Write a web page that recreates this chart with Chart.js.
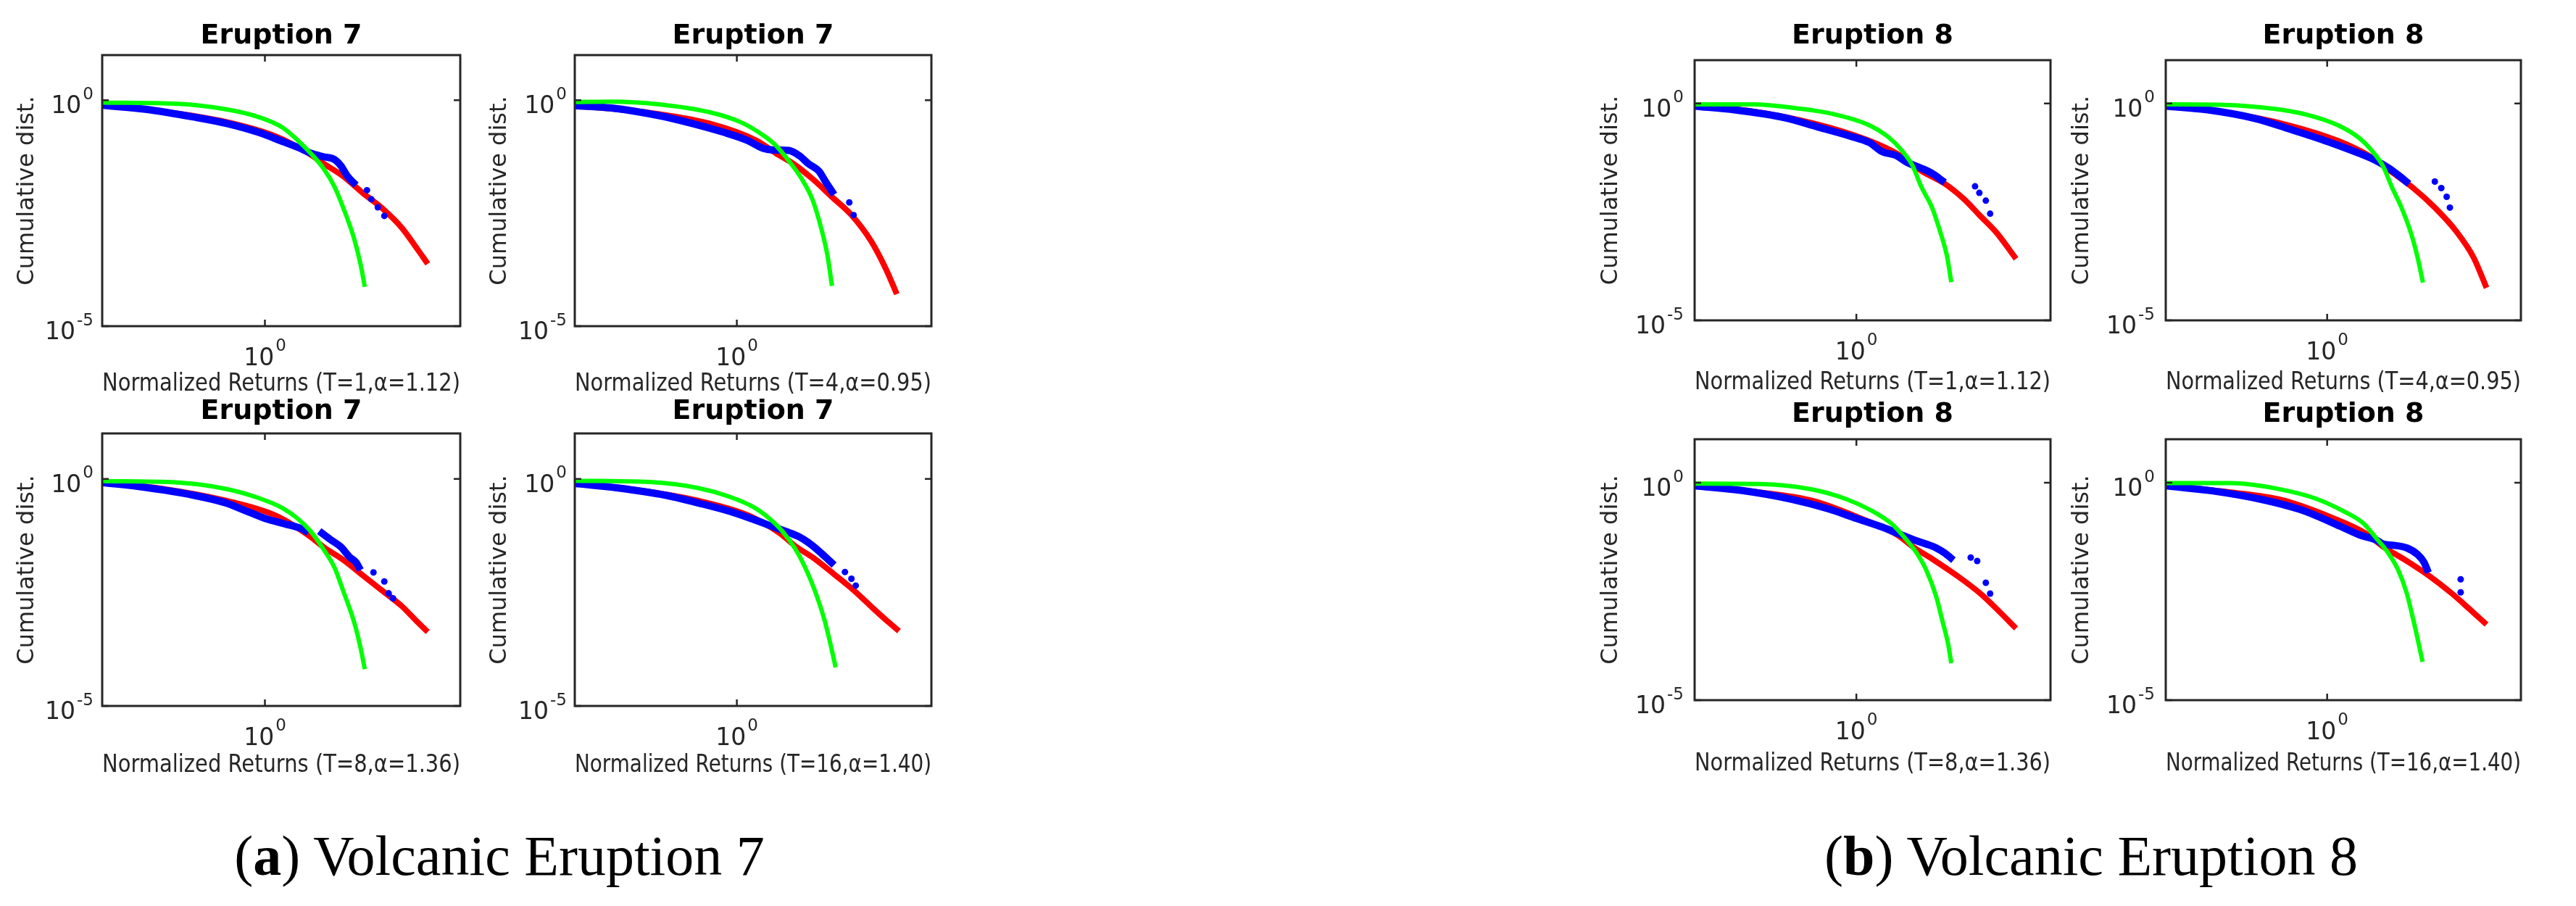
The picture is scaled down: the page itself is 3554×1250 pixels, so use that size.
<!DOCTYPE html>
<html>
<head>
<meta charset="utf-8">
<script src="https://cdn.jsdelivr.net/npm/chart.js@4.4.1/dist/chart.umd.min.js"></script>
<style>
  body { margin: 0; background: #fff; }
  #page { position: relative; width: 3554px; height: 1250px; overflow: hidden; background: #fff; }
  #page canvas { position: absolute; }
  .caption {
    position: absolute; top: 1142px; transform: translateX(-50%);
    font-family: "Liberation Serif", serif; font-size: 78px; line-height: 78px;
    color: #000; white-space: nowrap;
  }
</style>
</head>
<body>
<div id="page"></div>
<script>
// === Data ===
// every pair is [log10 x, log10 y], read off the log-log axes of the picture
const xTicks = [1];
const xTickExponents = ['0'];      // drawn as 10^0
const yTicks = [1e-5, 1];
const yTickExponents = ['-5', '0']; // drawn as 10^-5, 10^0
const xLimits = [0.178, 7.94];
const yLimits = [1e-5, 10];

const eruptions = ['Eruption 7', 'Eruption 8'];
const captions = ['Volcanic Eruption 7', 'Volcanic Eruption 8'];
const horizons = ['T=1,α=1.12', 'T=4,α=0.95', 'T=8,α=1.36', 'T=16,α=1.40'];

// Eruption 7
const a1Green = [[-0.75,-0.05],[-0.40,-0.08],[-0.18,-0.20],[-0.03,-0.37],[0.08,-0.60],[0.15,-0.88],[0.21,-1.17],[0.27,-1.51],[0.32,-1.91],[0.36,-2.37],[0.41,-3.05],[0.44,-3.62],[0.46,-4.13]];
const a1Red = [[-0.75,-0.11],[-0.47,-0.25],[-0.18,-0.48],[0.05,-0.80],[0.20,-1.17],[0.27,-1.40],[0.36,-1.68],[0.45,-2.05],[0.54,-2.39],[0.63,-2.82],[0.70,-3.28],[0.75,-3.62]];
const a1Blue = [[[-0.75,-0.11],[-0.55,-0.20],[-0.33,-0.37],[-0.18,-0.51],[-0.03,-0.71],[0.08,-0.91],[0.17,-1.08],[0.21,-1.17],[0.27,-1.25],[0.32,-1.31],[0.35,-1.45],[0.38,-1.68],[0.42,-1.88]]];
const a1Dots = [[0.47,-1.99],[0.49,-2.19],[0.52,-2.37],[0.55,-2.56]];

const a2Green = [[-0.75,-0.04],[-0.58,-0.03],[-0.36,-0.09],[-0.13,-0.26],[0.02,-0.49],[0.12,-0.77],[0.18,-1.00],[0.24,-1.34],[0.30,-1.74],[0.35,-2.20],[0.39,-2.83],[0.42,-3.46],[0.44,-4.11]];
const a2Red = [[-0.75,-0.12],[-0.43,-0.26],[-0.13,-0.51],[0.09,-0.89],[0.18,-1.17],[0.26,-1.40],[0.35,-1.74],[0.44,-2.14],[0.53,-2.54],[0.62,-3.11],[0.69,-3.74],[0.74,-4.29]];
const a2Blue = [[[-0.75,-0.12],[-0.58,-0.17],[-0.36,-0.34],[-0.21,-0.51],[-0.06,-0.71],[0.05,-0.89],[0.12,-1.06],[0.17,-1.10],[0.24,-1.11],[0.29,-1.23],[0.33,-1.40],[0.38,-1.57],[0.41,-1.80],[0.45,-2.09]]];
const a2Dots = [[0.52,-2.26],[0.54,-2.54]];

const a3Green = [[-0.75,-0.05],[-0.40,-0.08],[-0.18,-0.22],[-0.03,-0.42],[0.08,-0.64],[0.15,-0.87],[0.21,-1.15],[0.27,-1.55],[0.32,-1.95],[0.36,-2.46],[0.41,-3.14],[0.44,-3.71],[0.46,-4.19]];
const a3Red = [[-0.75,-0.08],[-0.47,-0.22],[-0.18,-0.48],[0.05,-0.81],[0.20,-1.24],[0.27,-1.50],[0.36,-1.78],[0.45,-2.12],[0.54,-2.46],[0.63,-2.80],[0.70,-3.14],[0.75,-3.37]];
const a3Blue = [
  [[-0.75,-0.08],[-0.55,-0.19],[-0.33,-0.36],[-0.18,-0.53],[-0.09,-0.70],[0.00,-0.87],[0.09,-0.99],[0.17,-1.10],[0.20,-1.18]],
  [[0.25,-1.15],[0.30,-1.33],[0.35,-1.50],[0.39,-1.72],[0.42,-1.84],[0.44,-2.01]]
];
const a3Dots = [[0.50,-2.06],[0.55,-2.26],[0.57,-2.52],[0.59,-2.63]];

const a4Green = [[-0.75,-0.04],[-0.40,-0.07],[-0.18,-0.20],[-0.03,-0.40],[0.08,-0.63],[0.15,-0.87],[0.21,-1.15],[0.27,-1.54],[0.315,-1.94],[0.36,-2.45],[0.405,-3.10],[0.435,-3.68],[0.457,-4.15]];
const a4Red = [[-0.75,-0.10],[-0.47,-0.24],[-0.18,-0.48],[0.05,-0.80],[0.20,-1.20],[0.27,-1.48],[0.36,-1.76],[0.45,-2.10],[0.54,-2.45],[0.63,-2.85],[0.70,-3.15],[0.75,-3.35]];
const a4Blue = [[[-0.75,-0.10],[-0.55,-0.20],[-0.33,-0.36],[-0.18,-0.53],[-0.03,-0.72],[0.08,-0.90],[0.17,-1.06],[0.24,-1.18],[0.29,-1.28],[0.33,-1.40],[0.37,-1.55],[0.41,-1.72],[0.45,-1.90]]];
const a4Dots = [[0.50,-2.05],[0.53,-2.20],[0.55,-2.35]];

// Eruption 8
const b1Green = [[-0.75,-0.02],[-0.48,-0.02],[-0.26,-0.12],[-0.11,-0.24],[0.05,-0.48],[0.15,-0.78],[0.21,-1.08],[0.26,-1.43],[0.30,-1.91],[0.35,-2.39],[0.39,-2.98],[0.42,-3.52],[0.44,-4.12]];
const b1Red = [[-0.75,-0.06],[-0.48,-0.18],[-0.18,-0.48],[0.05,-0.84],[0.20,-1.19],[0.30,-1.55],[0.41,-1.85],[0.50,-2.21],[0.57,-2.57],[0.65,-2.98],[0.74,-3.58]];
const b1Blue = [[[-0.75,-0.06],[-0.56,-0.15],[-0.33,-0.33],[-0.18,-0.54],[-0.03,-0.75],[0.06,-0.90],[0.12,-1.11],[0.18,-1.19],[0.24,-1.37],[0.30,-1.49],[0.35,-1.61],[0.41,-1.82]]];
const b1Dots = [[0.55,-1.91],[0.57,-2.06],[0.60,-2.24],[0.62,-2.54]];

const b2Green = [[-0.75,-0.02],[-0.48,-0.03],[-0.25,-0.12],[-0.10,-0.25],[0.05,-0.50],[0.15,-0.80],[0.21,-1.10],[0.26,-1.45],[0.30,-1.92],[0.345,-2.40],[0.39,-3.00],[0.42,-3.55],[0.445,-4.13]];
const b2Red = [[-0.75,-0.06],[-0.48,-0.20],[-0.18,-0.50],[0.05,-0.86],[0.20,-1.22],[0.30,-1.58],[0.40,-1.95],[0.50,-2.40],[0.60,-2.95],[0.68,-3.55],[0.74,-4.25]];
const b2Blue = [[[-0.75,-0.06],[-0.55,-0.15],[-0.33,-0.35],[-0.18,-0.58],[-0.03,-0.82],[0.06,-0.98],[0.15,-1.15],[0.22,-1.30],[0.29,-1.50],[0.33,-1.65],[0.38,-1.85]]];
const b2Dots = [[0.50,-1.80],[0.53,-1.95],[0.555,-2.15],[0.57,-2.40]];

const b3Green = [[-0.75,-0.02],[-0.45,-0.03],[-0.21,-0.15],[-0.05,-0.37],[0.07,-0.64],[0.165,-0.95],[0.23,-1.30],[0.28,-1.62],[0.325,-2.02],[0.37,-2.62],[0.40,-3.20],[0.425,-3.70],[0.44,-4.15]];
const b3Red = [[-0.75,-0.07],[-0.45,-0.22],[-0.20,-0.42],[0.03,-0.84],[0.19,-1.20],[0.27,-1.50],[0.36,-1.78],[0.47,-2.15],[0.58,-2.57],[0.66,-2.95],[0.74,-3.35]];
const b3Blue = [[[-0.75,-0.07],[-0.53,-0.18],[-0.30,-0.38],[-0.13,-0.60],[0.00,-0.82],[0.12,-1.02],[0.20,-1.18],[0.27,-1.32],[0.33,-1.42],[0.37,-1.50],[0.41,-1.62],[0.45,-1.78]]];
const b3Dots = [[0.53,-1.72],[0.56,-1.80],[0.60,-2.30],[0.62,-2.55]];

const b4Green = [[-0.75,-0.01],[-0.45,-0.01],[-0.21,-0.16],[-0.05,-0.37],[0.07,-0.64],[0.17,-0.94],[0.23,-1.29],[0.28,-1.59],[0.33,-2.01],[0.37,-2.55],[0.40,-3.15],[0.425,-3.70],[0.443,-4.12]];
const b4Red = [[-0.75,-0.07],[-0.45,-0.22],[-0.21,-0.40],[0.03,-0.82],[0.18,-1.17],[0.26,-1.47],[0.36,-1.77],[0.47,-2.13],[0.58,-2.55],[0.66,-2.90],[0.74,-3.26]];
const b4Blue = [[[-0.75,-0.07],[-0.53,-0.19],[-0.29,-0.40],[-0.13,-0.61],[-0.05,-0.76],[0.06,-1.00],[0.15,-1.20],[0.23,-1.32],[0.26,-1.41],[0.31,-1.44],[0.37,-1.50],[0.42,-1.65],[0.45,-1.83],[0.47,-2.07]]];
const b4Dots = [[0.62,-2.22],[0.62,-2.52]];

// === Layout (plot box in page pixels) ===
const panels = [
  { green: a1Green, red: a1Red, blue: a1Blue, dots: a1Dots, e: 0, h: 0, left: 141, top: 76, w: 494, ht: 374, titleY: 50, xGap: 80, yGap: 104, tickPad: 12 },
  { green: a2Green, red: a2Red, blue: a2Blue, dots: a2Dots, e: 0, h: 1, left: 793, top: 76, w: 492, ht: 374, titleY: 50, xGap: 80, yGap: 104, tickPad: 11 },
  { green: a3Green, red: a3Red, blue: a3Blue, dots: a3Dots, e: 0, h: 2, left: 141, top: 598, w: 494, ht: 376, titleY: 568, xGap: 82, yGap: 104, tickPad: 12 },
  { green: a4Green, red: a4Red, blue: a4Blue, dots: a4Dots, e: 0, h: 3, left: 793, top: 598, w: 492, ht: 376, titleY: 568, xGap: 82, yGap: 104, tickPad: 11 },
  { green: b1Green, red: b1Red, blue: b1Blue, dots: b1Dots, e: 1, h: 0, left: 2338, top: 83, w: 491, ht: 359, titleY: 50, xGap: 86, yGap: 116, tickPad: 15 },
  { green: b2Green, red: b2Red, blue: b2Blue, dots: b2Dots, e: 1, h: 1, left: 2988, top: 83, w: 490, ht: 359, titleY: 50, xGap: 86, yGap: 116, tickPad: 15 },
  { green: b3Green, red: b3Red, blue: b3Blue, dots: b3Dots, e: 1, h: 2, left: 2338, top: 606, w: 491, ht: 360, titleY: 572, xGap: 88, yGap: 116, tickPad: 15 },
  { green: b4Green, red: b4Red, blue: b4Blue, dots: b4Dots, e: 1, h: 3, left: 2988, top: 606, w: 490, ht: 360, titleY: 572, xGap: 88, yGap: 116, tickPad: 15 }
];
const captionX = [689, 2885];

const FONT = '"DejaVu Sans", sans-serif';
const INK = '#262626';
const Y_AXIS_W = 141;
const TITLE_H = 76;
const RIGHT_PAD = 20;

const toPoints = arr => arr.map(([lx, ly]) => ({ x: Math.pow(10, lx), y: Math.pow(10, ly) }));
const lineStyle = { showLine: true, pointRadius: 0, fill: false, cubicInterpolationMode: 'monotone' };

// "10" with a raised exponent, as MATLAB writes log tick labels
function powerLabel(ctx, exp, x, baseCenter, align) {
    ctx.font = '33px ' + FONT;
    const baseW = ctx.measureText('10').width;
    ctx.font = '23px ' + FONT;
    const expW = ctx.measureText(exp).width;
    const total = baseW + 2 + expW;
    const start = align === 'right' ? x - total : x - total / 2;
    ctx.fillStyle = INK;
    ctx.textAlign = 'left';
    ctx.textBaseline = 'alphabetic';
    ctx.font = '33px ' + FONT;
    ctx.fillText('10', start, baseCenter + 12);
    ctx.font = '23px ' + FONT;
    ctx.fillText(exp, start + baseW + 2, baseCenter - 7.5);
}

// box around the axes, small inward ticks and the tick labels
const frame = {
    id: 'frame',
    afterDraw(chart, args, opts) {
        const { ctx, chartArea: a, scales: { x, y } } = chart;
        ctx.save();
        ctx.strokeStyle = INK;
        ctx.lineWidth = 3;
        ctx.strokeRect(a.left, a.top, a.right - a.left, a.bottom - a.top);
        ctx.lineWidth = 2.5;
        ctx.beginPath();
        x.ticks.forEach(t => {
            const px = x.getPixelForValue(t.value);
            ctx.moveTo(px, a.bottom); ctx.lineTo(px, a.bottom - 9);
            ctx.moveTo(px, a.top); ctx.lineTo(px, a.top + 9);
        });
        y.ticks.forEach(t => {
            const py = y.getPixelForValue(t.value);
            ctx.moveTo(a.left, py); ctx.lineTo(a.left + 9, py);
            ctx.moveTo(a.right, py); ctx.lineTo(a.right - 9, py);
        });
        ctx.stroke();
        x.ticks.forEach(t => {
            powerLabel(ctx, xTickExponents[xTicks.indexOf(t.value)], x.getPixelForValue(t.value), a.bottom + 41.5, 'center');
        });
        y.ticks.forEach(t => {
            powerLabel(ctx, yTickExponents[yTicks.indexOf(t.value)], a.left - opts.tickPad, y.getPixelForValue(t.value) + 6, 'right');
        });
        ctx.restore();
    }
};

function buildDatasets(p) {
    const ds = [];
    // first dataset is painted last, so green sits on top and red underneath
    ds.push({ data: toPoints(p.green), borderColor: '#00ff00', borderWidth: 6, ...lineStyle });
    ds.push({ data: toPoints(p.dots), showLine: false, pointRadius: 4.5, pointBackgroundColor: '#0000ff', pointBorderWidth: 0 });
    p.blue.forEach(seg => ds.push({ data: toPoints(seg), borderColor: '#0000ff', borderWidth: 10, ...lineStyle }));
    ds.push({ data: toPoints(p.red), borderColor: '#ff0000', borderWidth: 8, ...lineStyle });
    return ds;
}

const page = document.getElementById('page');

panels.forEach(p => {
    const canvas = document.createElement('canvas');
    const xAxisH = p.xGap + 20;
    canvas.width = Y_AXIS_W + p.w + RIGHT_PAD;
    canvas.height = TITLE_H + p.ht + xAxisH;
    canvas.style.left = (p.left - Y_AXIS_W) + 'px';
    canvas.style.top = (p.top - TITLE_H) + 'px';
    page.appendChild(canvas);

    const titlePad = p.titleY - p.top + TITLE_H - 19;

    new Chart(canvas, {
        type: 'scatter',
        data: { datasets: buildDatasets(p) },
        options: {
            responsive: false,
            animation: false,
            devicePixelRatio: 1,
            events: [],
            layout: { padding: { left: 0, right: RIGHT_PAD, top: 0, bottom: 0 } },
            plugins: {
                legend: { display: false },
                tooltip: { enabled: false },
                frame: { tickPad: p.tickPad },
                title: {
                    display: true,
                    text: eruptions[p.e],
                    fullSize: false,
                    color: '#000',
                    font: { family: FONT, size: 38, weight: 'bold', lineHeight: 1 },
                    padding: { top: titlePad, bottom: TITLE_H - 38 - titlePad }
                }
            },
            scales: {
                x: {
                    type: 'logarithmic',
                    min: xLimits[0],
                    max: xLimits[1],
                    grid: { display: false, drawTicks: false },
                    border: { display: false },
                    ticks: { display: false },
                    afterBuildTicks: s => { s.ticks = xTicks.map(v => ({ value: v })); },
                    afterFit: s => { s.height = xAxisH; },
                    title: {
                        display: true,
                        text: 'Normalized Returns (' + horizons[p.h] + ')',
                        color: INK,
                        font: { family: FONT, size: 33 },
                        padding: { top: 0, bottom: 0 }
                    }
                },
                y: {
                    type: 'logarithmic',
                    min: yLimits[0],
                    max: yLimits[1],
                    grid: { display: false, drawTicks: false },
                    border: { display: false },
                    ticks: { display: false },
                    afterBuildTicks: s => { s.ticks = yTicks.map(v => ({ value: v })); },
                    afterFit: s => { s.width = Y_AXIS_W; },
                    title: {
                        display: true,
                        text: 'Cumulative dist.',
                        color: INK,
                        font: { family: FONT, size: 32 },
                        padding: { top: Y_AXIS_W - p.yGap - 19, bottom: 0 }
                    }
                }
            }
        },
        plugins: [frame]
    });
});

captions.forEach((text, i) => {
    const div = document.createElement('div');
    div.className = 'caption';
    div.style.left = captionX[i] + 'px';
    const b = document.createElement('b');
    b.textContent = String.fromCharCode(97 + i);
    div.append('(', b, ') ' + text);
    page.appendChild(div);
});
</script>
</body>
</html>
